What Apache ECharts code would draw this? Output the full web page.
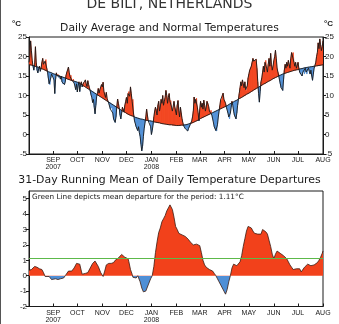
<!DOCTYPE html>
<html>
<head>
<meta charset="utf-8">
<script src="https://cdn.jsdelivr.net/npm/echarts@6/dist/echarts.min.js"></script>
<style>
  html, body { margin: 0; padding: 0; background: #fff; }
  #chart { width: 339px; height: 324px; }
</style>
</head>
<body>
<div id="chart"></div>
<script>
// Day index 0 = 2 Aug 2007, day 365 = 1 Aug 2008

// Daily average temperature (°C)
const dailyTemp = [
  18.5,20.0,24.0,21.5,19.0,17.5,16.5,18.0,22.5,18.5,
  16.5,15.8,16.8,17.5,16.2,17.0,18.5,19.5,18.0,17.5,
  18.8,19.2,17.0,16.0,14.5,13.0,12.8,14.5,15.5,15.0,
  15.2,14.0,10.5,14.2,15.8,15.0,15.4,14.6,15.0,14.2,
  15.0,13.5,13.0,14.0,12.8,13.5,15.2,16.0,16.5,17.3,
  15.8,14.8,15.2,14.0,13.8,14.2,13.2,12.8,11.5,13.0,
  10.9,12.5,13.5,11.0,12.8,13.5,12.2,12.9,13.4,12.5,
  14.0,13.0,12.3,13.8,12.8,12.0,11.2,10.2,9.5,8.2,
  9.0,7.0,5.3,7.5,9.8,10.5,11.8,10.6,11.5,12.0,12.8,
  12.2,13.4,11.0,10.5,9.5,10.8,9.2,8.6,8.0,7.5,
  6.5,7.0,6.8,5.5,4.0,3.5,3.1,4.5,7.2,9.1,
  8.0,6.8,5.0,4.0,5.5,7.0,6.5,5.8,7.5,8.5,
  9.5,8.0,10.5,11.0,9.8,12.2,10.5,8.5,9.0,5.0,
  3.5,3.0,2.0,1.5,1.0,2.0,0.5,-0.5,-2.5,-4.2,
  -3.0,-0.5,1.5,3.0,4.5,6.5,5.0,3.5,3.2,3.4,2.0,
  0.0,1.0,2.5,4.5,6.0,7.0,6.5,5.0,7.5,8.5,
  6.0,7.0,9.0,8.0,10.0,7.5,8.5,9.5,11.3,10.0,
  8.0,9.5,10.5,8.5,8.7,7.0,6.0,5.5,8.5,7.0,6.5,
  5.0,7.5,8.7,6.0,4.5,7.0,5.5,4.0,3.0,2.2,
  2.0,1.5,2.0,1.2,0.9,1.5,2.0,2.5,2.8,3.5,
  4.5,6.0,9.6,8.0,9.0,9.3,7.0,5.5,3.5,
  6.5,8.5,7.0,8.0,6.5,8.8,7.5,6.0,7.0,8.5,
  8.0,7.2,6.0,5.8,6.2,5.0,4.0,3.5,2.0,1.5,
  1.0,0.9,2.5,4.5,6.0,7.5,9.0,8.5,10.0,10.6,9.0,
  8.5,8.0,7.0,6.5,5.5,4.5,4.0,5.5,7.0,8.5,
  7.5,6.0,5.0,4.5,4.0,5.5,7.5,9.0,10.5,12.0,
  13.5,12.5,14.0,13.0,12.0,13.5,11.5,11.0,12.5,14.5,
  15.5,16.5,17.0,17.5,18.5,19.5,18.8,19.0,18.5,19.3,
  17.0,13.5,10.5,8.3,11.0,13.5,14.5,16.0,17.5,16.0,
  18.5,19.0,17.0,16.0,18.0,19.5,17.5,20.8,18.0,16.5,17.5,
  19.0,20.0,21.6,19.5,17.0,16.0,15.5,14.0,13.0,12.0,
  12.5,11.3,14.0,16.5,18.0,17.0,18.5,17.5,19.0,18.0,
  17.0,19.5,21.0,20.5,21.0,18.5,17.5,18.5,17.0,17.5,
  18.5,17.0,16.0,15.5,16.5,15.0,16.0,16.5,15.5,17.0,
  16.0,15.5,16.5,17.0,16.2,15.5,16.5,15.0,13.9,15.5,
  17.0,17.5,18.5,20.0,21.0,23.5,22.0,24.5,23.0,21.5,22.5,24.0
];

// Normal daily temperature (°C)
const normalTemp = [
  17.9,17.9,17.8,17.8,17.7,17.7,17.6,17.6,17.5,17.4,
  17.4,17.3,17.2,17.1,17.0,16.9,16.9,16.8,16.7,16.6,
  16.5,16.4,16.3,16.2,16.1,16.0,15.9,15.9,15.8,15.7,
  15.6,15.5,15.4,15.4,15.3,15.2,15.1,15.1,15.0,14.9,
  14.8,14.8,14.7,14.6,14.5,14.5,14.4,14.3,14.2,14.2,
  14.1,14.0,13.9,13.9,13.8,13.7,13.7,13.6,13.5,13.5,
  13.4,13.3,13.2,13.1,12.9,12.8,12.7,12.6,12.4,12.3,
  12.2,12.1,11.9,11.8,11.7,11.5,11.4,11.3,11.1,11.0,
  10.9,10.7,10.6,10.5,10.3,10.2,10.1,9.9,9.8,9.7,9.5,
  9.4,9.3,9.1,9.0,8.9,8.7,8.6,8.5,8.3,8.2,
  8.1,7.9,7.8,7.7,7.5,7.4,7.3,7.1,7.0,6.9,
  6.7,6.6,6.5,6.3,6.2,6.1,5.9,5.8,5.7,5.6,
  5.4,5.3,5.2,5.1,5.0,4.9,4.8,4.8,4.7,4.6,
  4.5,4.4,4.4,4.3,4.2,4.2,4.1,4.0,4.0,3.9,
  3.9,3.8,3.8,3.7,3.7,3.6,3.6,3.6,3.5,3.5,3.5,
  3.4,3.4,3.3,3.3,3.2,3.2,3.1,3.1,3.0,3.0,
  3.0,2.9,2.9,2.8,2.8,2.8,2.7,2.7,2.7,2.6,
  2.6,2.6,2.5,2.5,2.5,2.5,2.4,2.4,2.4,2.4,2.4,
  2.3,2.3,2.3,2.3,2.3,2.3,2.4,2.4,2.4,2.4,
  2.5,2.5,2.5,2.6,2.6,2.7,2.7,2.8,2.9,2.9,
  3.0,3.1,3.2,3.3,3.4,3.5,3.6,3.7,3.8,
  4.0,4.1,4.2,4.3,4.4,4.5,4.6,4.7,4.8,4.9,
  5.0,5.1,5.2,5.3,5.4,5.5,5.6,5.7,5.8,5.9,
  6.0,6.1,6.2,6.3,6.4,6.5,6.6,6.7,6.8,6.9,7.0,
  7.1,7.2,7.3,7.4,7.5,7.6,7.8,7.9,8.0,8.1,
  8.2,8.3,8.5,8.6,8.7,8.8,8.9,9.1,9.2,9.3,
  9.4,9.5,9.7,9.8,9.9,10.0,10.1,10.3,10.4,10.5,
  10.6,10.8,10.9,11.0,11.1,11.3,11.4,11.5,11.6,11.8,
  11.9,12.0,12.1,12.3,12.4,12.5,12.6,12.8,12.9,13.0,
  13.1,13.2,13.4,13.5,13.6,13.7,13.8,13.9,14.1,14.2,14.3,
  14.4,14.5,14.6,14.7,14.8,14.9,15.0,15.1,15.2,15.3,
  15.4,15.5,15.5,15.6,15.7,15.8,15.9,15.9,16.0,16.1,
  16.1,16.2,16.3,16.3,16.4,16.4,16.5,16.5,16.6,16.6,
  16.7,16.7,16.8,16.8,16.9,16.9,17.0,17.0,17.1,17.1,
  17.1,17.2,17.2,17.3,17.3,17.3,17.4,17.4,17.4,17.5,
  17.5,17.5,17.6,17.6,17.6,17.7,17.7,17.7,17.8,17.8,17.8,17.9
];

// 31-day running mean of the daily departures (°C), sampled by day index
const rmDays = [
  0,3,5,7,10,13,16,18,20,22,25,26,28,30,33,36,39,41,43,45,
  47,49,51,53,56,59,61,63,65,66,68,70,73,76,79,82,84,86,89,92,
  94,96,99,102,105,107,109,111,113,115,117,119,121,123,124,126,128,129,131,133,
  135,136,138,140,142,143,145,148,151,153,155,157,159,161,163,165,167,169,171,173,
  175,176,178,180,182,184,186,188,190,192,194,196,198,200,202,204,206,208,210,212,
  214,216,218,220,222,224,226,228,230,232,234,236,238,240,242,244,246,248,250,252,
  254,256,258,260,262,264,266,268,270,272,274,276,278,280,282,284,286,288,290,292,
  294,296,298,300,302,304,306,308,310,312,314,316,318,320,322,324,326,328,330,332,
  334,336,338,340,342,344,346,348,350,352,354,356,358,360,362,364,365
];
const rmDeparture = [
  0.35,0.4,0.5,0.6,0.55,0.45,0.4,0.2,-0.05,0.0,-0.05,-0.1,-0.25,-0.3,-0.2,-0.25,-0.2,-0.3,-0.15,0.0,
  0.05,0.3,0.35,0.3,0.5,0.8,0.85,0.75,0.3,0.1,0.1,0.15,0.2,0.5,0.8,0.95,0.9,0.6,0.2,-0.05,
  0.3,0.7,0.8,0.8,0.85,1.0,0.95,1.15,1.25,1.38,1.3,1.2,1.15,1.1,0.9,0.4,0.1,-0.1,-0.2,-0.15,
  0.0,-0.1,-0.4,-0.8,-1.05,-1.15,-1.0,-0.6,-0.2,0.0,0.6,1.5,2.2,2.8,3.1,3.5,3.7,3.9,4.2,4.4,
  4.6,4.7,4.3,3.8,3.2,3.0,2.75,2.7,2.65,2.6,2.55,2.45,2.35,2.2,2.1,2.0,2.0,2.05,2.05,1.95,
  1.5,1.0,0.7,0.55,0.5,0.4,0.35,0.3,0.15,0.0,-0.2,-0.4,-0.6,-0.8,-1.0,-1.2,-0.9,-0.4,0.0,0.5,
  0.75,0.7,0.65,0.75,0.9,1.3,1.9,2.4,2.9,3.2,3.3,3.1,2.9,2.75,2.7,2.7,2.75,2.7,3.0,2.95,
  2.85,2.7,2.3,1.9,1.4,1.1,1.4,1.6,1.55,1.45,1.4,1.3,1.2,1.1,0.9,0.7,0.55,0.4,0.35,0.45,
  0.55,0.45,0.25,0.35,0.55,0.65,0.75,0.75,0.65,0.7,0.7,0.75,0.85,1.0,1.2,1.45,1.6
];
const meanDeparture = 1.11;

// Month axis: day index of the first of each month and its label
const monthDays = [30, 60, 91, 121, 152, 183, 212, 243, 273, 304, 334, 365];
const monthLabels = ['SEP\n2007', 'OCT', 'NOV', 'DEC', 'JAN\n2008', 'FEB', 'MAR', 'APR', 'MAY', 'JUN', 'JUL', 'AUG'];
// Labelled values on the departure axis
const departureTicks = [-2, -1, 0, 1, 2, 3, 4, 5];

const RED = '#f2411b';
const BLUE = '#4f8fd6';
const INK = '#1a1a1a';
const FONT = 'DejaVu Sans';

// One item per day-to-day step: [day, actual, normal, next actual, next normal]
const bandSteps = dailyTemp.slice(0, -1).map((a, i) =>
  [i, a, normalTemp[i], dailyTemp[i + 1], normalTemp[i + 1]]);
const actualLine = dailyTemp.map((v, i) => [i, v]);
const normalLine = normalTemp.map((v, i) => [i, v]);
const departureLine = rmDays.map((d, i) => [d, rmDeparture[i]]);

// Fill between the actual and normal curves: red when warmer, blue when colder
function renderBand(params, api) {
  const x0 = api.value(0), x1 = x0 + 1;
  const a0 = api.value(1), n0 = api.value(2), a1 = api.value(3), n1 = api.value(4);
  const d0 = a0 - n0, d1 = a1 - n1;
  const children = [];
  const poly = (pts, color) => children.push({
    type: 'polygon',
    shape: { points: pts.map(p => api.coord(p)) },
    style: { fill: color, stroke: color, lineWidth: 0.5 }
  });
  if ((d0 >= 0 && d1 >= 0) || (d0 <= 0 && d1 <= 0)) {
    poly([[x0, a0], [x1, a1], [x1, n1], [x0, n0]], d0 + d1 >= 0 ? RED : BLUE);
  } else {
    const t = d0 / (d0 - d1);
    const cross = [x0 + t, a0 + t * (a1 - a0)];
    poly([[x0, a0], cross, [x0, n0]], d0 > 0 ? RED : BLUE);
    poly([cross, [x1, a1], [x1, n1]], d1 > 0 ? RED : BLUE);
  }
  return { type: 'group', children };
}

function monthAxis(gridIndex) {
  return {
    type: 'value', gridIndex, min: 0, max: 365,
    splitLine: { show: false },
    axisLine: { onZero: false, lineStyle: { color: INK, width: 1 } },
    axisTick: { show: true, customValues: monthDays, length: 3, inside: true, lineStyle: { color: INK } },
    axisLabel: {
      customValues: monthDays,
      formatter: v => monthLabels[monthDays.indexOf(Math.round(v))] || '',
      fontFamily: 'Liberation Sans', fontSize: 7, lineHeight: 7, color: INK, margin: 3
    }
  };
}

function valueAxis(gridIndex, position, min, max, interval, ticks) {
  const axis = {
    type: 'value', gridIndex, position, min, max, interval,
    splitLine: { show: false },
    axisLine: { show: true, onZero: false, lineStyle: { color: INK, width: 1 } },
    axisTick: { show: true, length: 3, lineStyle: { color: INK } },
    axisLabel: { fontFamily: 'Liberation Sans', fontSize: 8, color: INK, margin: 2 }
  };
  if (ticks) {
    axis.axisTick.customValues = ticks;
    axis.axisLabel.customValues = ticks;
  }
  return axis;
}

const chart = echarts.init(document.getElementById('chart'), null, { renderer: 'canvas' });
chart.setOption({
  animation: false,
  backgroundColor: '#fff',
  title: [
    { text: 'DE BILT, NETHERLANDS', left: 'center', top: -3, padding: 0,
      textStyle: { fontFamily: FONT, fontSize: 14, fontWeight: 'normal', color: '#333' } },
    { text: 'Daily Average and Normal Temperatures', left: 'center', top: 23, padding: 0,
      textStyle: { fontFamily: FONT, fontSize: 10.8, fontWeight: 'normal', color: INK } },
    { text: '°C', left: 12, top: 20, padding: 0,
      textStyle: { fontFamily: 'Liberation Sans', fontSize: 8, fontWeight: 'bold', color: INK } },
    { text: '°C', left: 324, top: 20, padding: 0,
      textStyle: { fontFamily: 'Liberation Sans', fontSize: 8, fontWeight: 'bold', color: INK } },
    { text: '31-Day Running Mean of Daily Temperature Departures', left: 'center', top: 175, padding: 0,
      textStyle: { fontFamily: FONT, fontSize: 10.9, fontWeight: 'normal', color: INK } },
    { text: 'Green Line depicts mean departure for the period: ' + meanDeparture + '°C', left: 32, top: 194, padding: 0,
      textStyle: { fontFamily: FONT, fontSize: 7.3, fontWeight: 'normal', color: INK } }
  ],
  grid: [
    { left: 29, right: 16, top: 37, height: 117, show: true, borderColor: INK, borderWidth: 1, backgroundColor: 'transparent' },
    { left: 29, right: 16, top: 191, height: 115.5, show: true, borderColor: INK, borderWidth: 1, backgroundColor: 'transparent' }
  ],
  xAxis: [monthAxis(0), monthAxis(1)],
  yAxis: [
    valueAxis(0, 'left', -5, 25, 5),
    valueAxis(0, 'right', -5, 25, 5),
    valueAxis(1, 'left', -2, 5.5, 1, departureTicks)
  ],
  visualMap: {
    show: false, type: 'piecewise', seriesIndex: 3, dimension: 1,
    pieces: [{ lt: 0, color: BLUE }, { gte: 0, lt: 100, color: RED }, { gte: 100, color: RED }]
  },
  series: [
    { name: 'band', type: 'custom', xAxisIndex: 0, yAxisIndex: 0, data: bandSteps,
      encode: { x: 0, y: [1, 2] }, renderItem: renderBand, silent: true, clip: true, z: 1 },
    { name: 'normal', type: 'line', xAxisIndex: 0, yAxisIndex: 0, data: normalLine,
      symbol: 'none', silent: true, z: 2, lineStyle: { color: INK, width: 0.9 } },
    { name: 'actual', type: 'line', xAxisIndex: 0, yAxisIndex: 0, data: actualLine,
      symbol: 'none', silent: true, z: 3, lineStyle: { color: INK, width: 0.9 } },
    { name: 'departure', type: 'line', xAxisIndex: 1, yAxisIndex: 2, data: departureLine,
      symbol: 'none', silent: true, z: 1, lineStyle: { width: 0 }, areaStyle: { opacity: 1 } },
    { name: 'departureEdge', type: 'line', xAxisIndex: 1, yAxisIndex: 2, data: departureLine,
      symbol: 'none', silent: true, z: 3, lineStyle: { color: '#3a1a10', width: 0.8 },
      markLine: {
        silent: true, symbol: 'none', label: { show: false }, animation: false,
        lineStyle: { color: '#5cb94a', width: 1, type: 'solid' },
        data: [{ yAxis: meanDeparture }]
      }
    }
  ],
  graphic: [
    { type: 'line', shape: { x1: 0.5, y1: 0, x2: 0.5, y2: 324 }, style: { stroke: '#555', lineWidth: 1 } }
  ]
});
</script>
</body>
</html>
